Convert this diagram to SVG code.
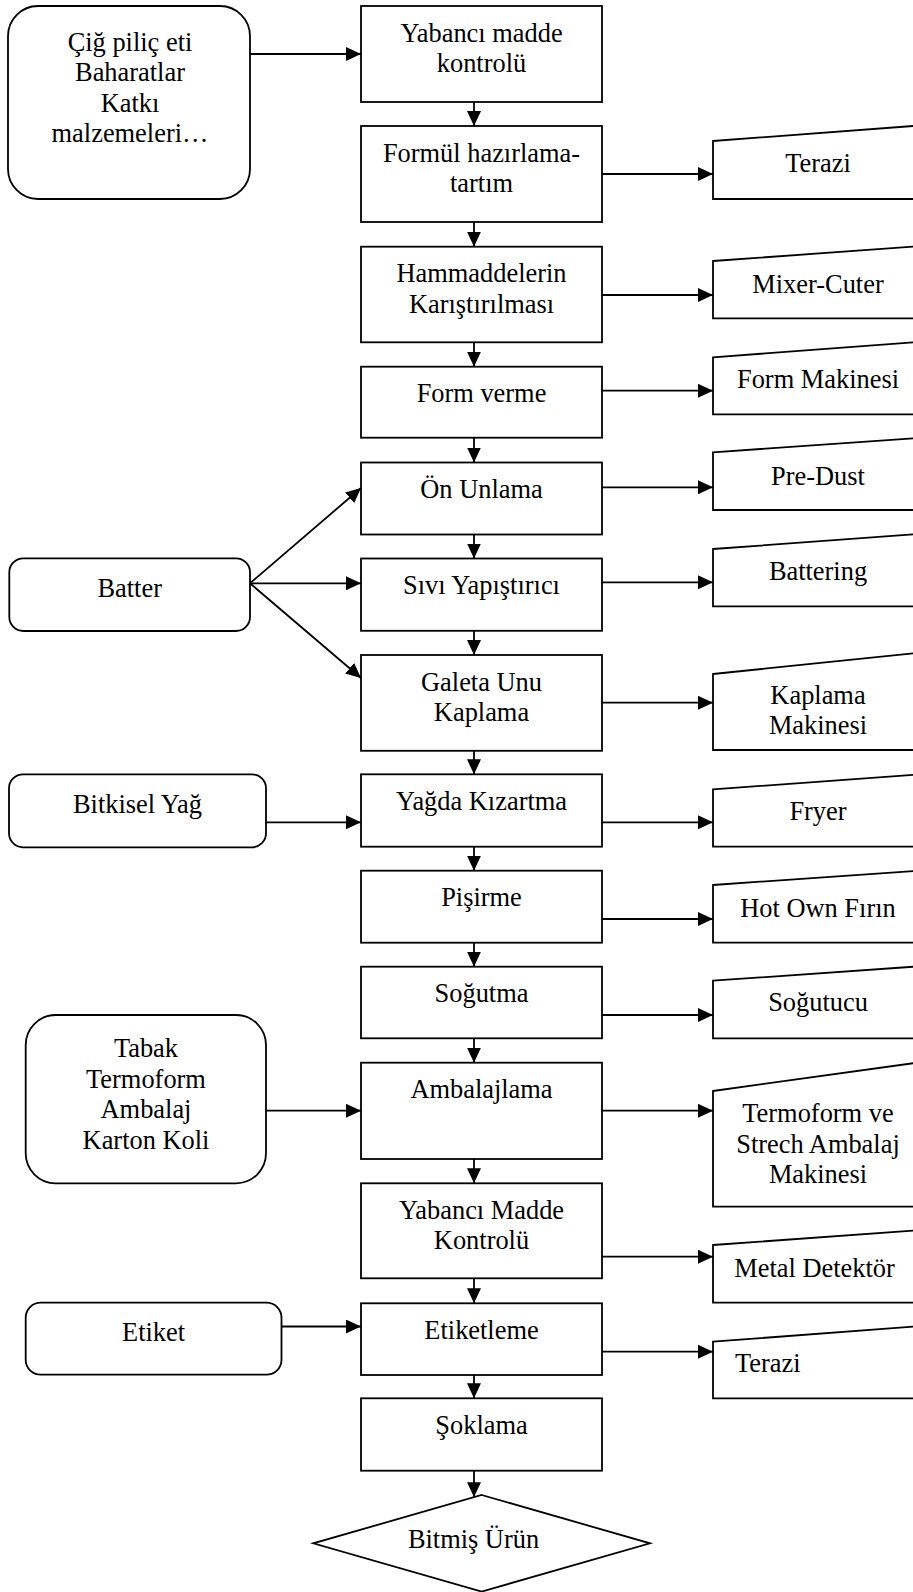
<svg xmlns="http://www.w3.org/2000/svg" width="913" height="1592" viewBox="0 0 913 1592">
  <defs>
    <style>
      .box { fill: #fff; stroke: #000; stroke-width: 1.8; }
      .lbl { font-family: "Liberation Serif", "Times New Roman", serif; font-size: 26.4px; fill: #000; text-anchor: middle; }
      .lft { text-anchor: start; }
      .wire { stroke: #000; stroke-width: 1.8; fill: none; marker-end: url(#head); }
    </style>
    <marker id="head" markerUnits="userSpaceOnUse" markerWidth="15" markerHeight="14" refX="15" refY="7" orient="auto">
      <path d="M0,0 L15,7 L0,14 z" fill="#000"/>
    </marker>
  </defs>
  <rect width="913" height="1592" fill="#fff"/>

  <!-- connectors -->
  <g id="connectors">
    <!-- inputs from the left -->
    <line class="wire" x1="250" y1="54" x2="361" y2="54"/>
    <line class="wire" x1="250" y1="583.3" x2="361" y2="488"/>
    <line class="wire" x1="250" y1="583.3" x2="361" y2="583.3"/>
    <line class="wire" x1="250" y1="583.3" x2="361" y2="678"/>
    <line class="wire" x1="266" y1="822.3" x2="361" y2="822.3"/>
    <line class="wire" x1="266" y1="1110.7" x2="361" y2="1110.7"/>
    <line class="wire" x1="281.5" y1="1326.5" x2="361" y2="1326.5"/>
    <!-- main flow -->
    <line class="wire" x1="474" y1="102" x2="474" y2="126"/>
    <line class="wire" x1="474" y1="222" x2="474" y2="246.7"/>
    <line class="wire" x1="474" y1="342.3" x2="474" y2="366.7"/>
    <line class="wire" x1="474" y1="437.7" x2="474" y2="462.5"/>
    <line class="wire" x1="474" y1="534.5" x2="474" y2="558.5"/>
    <line class="wire" x1="474" y1="630.8" x2="474" y2="655"/>
    <line class="wire" x1="474" y1="750.8" x2="474" y2="774.3"/>
    <line class="wire" x1="474" y1="846.7" x2="474" y2="870.7"/>
    <line class="wire" x1="474" y1="942.7" x2="474" y2="966.7"/>
    <line class="wire" x1="474" y1="1038.3" x2="474" y2="1062.7"/>
    <line class="wire" x1="474" y1="1159" x2="474" y2="1183.3"/>
    <line class="wire" x1="474" y1="1278.3" x2="474" y2="1303.3"/>
    <line class="wire" x1="474" y1="1375" x2="474" y2="1398.3"/>
    <line class="wire" x1="474" y1="1470.7" x2="474" y2="1497.2"/>
    <!-- equipment links -->
    <line class="wire" x1="602" y1="174" x2="713" y2="174"/>
    <line class="wire" x1="602" y1="295" x2="713" y2="295"/>
    <line class="wire" x1="602" y1="390.7" x2="713" y2="390.7"/>
    <line class="wire" x1="602" y1="487.3" x2="713" y2="487.3"/>
    <line class="wire" x1="602" y1="582.3" x2="713" y2="582.3"/>
    <line class="wire" x1="602" y1="702.7" x2="713" y2="702.7"/>
    <line class="wire" x1="602" y1="822.3" x2="713" y2="822.3"/>
    <line class="wire" x1="602" y1="919" x2="713" y2="919"/>
    <line class="wire" x1="602" y1="1015" x2="713" y2="1015"/>
    <line class="wire" x1="602" y1="1110.7" x2="713" y2="1110.7"/>
    <line class="wire" x1="602" y1="1256.7" x2="713" y2="1256.7"/>
    <line class="wire" x1="602" y1="1351.7" x2="713" y2="1351.7"/>
  </g>

  <!-- inputs -->
  <g id="in-raw">
    <rect class="box" x="8" y="6" width="242" height="193" rx="30"/>
    <text class="lbl" x="130" y="51">Çiğ piliç eti</text>
    <text class="lbl" x="130" y="81.4">Baharatlar</text>
    <text class="lbl" x="130" y="111.8">Katkı</text>
    <text class="lbl" x="130" y="142.2">malzemeleri…</text>
  </g>
  <g id="in-batter">
    <rect class="box" x="9.3" y="558.3" width="240.7" height="72.7" rx="14"/>
    <text class="lbl" x="129.7" y="596.7">Batter</text>
  </g>
  <g id="in-oil">
    <rect class="box" x="9" y="774.3" width="257" height="73" rx="14"/>
    <text class="lbl" x="137.5" y="813">Bitkisel Yağ</text>
  </g>
  <g id="in-pack">
    <rect class="box" x="25.7" y="1015" width="240.3" height="168.3" rx="30"/>
    <text class="lbl" x="146" y="1057">Tabak</text>
    <text class="lbl" x="146" y="1087.6">Termoform</text>
    <text class="lbl" x="146" y="1118.2">Ambalaj</text>
    <text class="lbl" x="146" y="1148.8">Karton Koli</text>
  </g>
  <g id="in-label">
    <rect class="box" x="25.7" y="1302.7" width="255.8" height="72" rx="15"/>
    <text class="lbl" x="153.6" y="1340.7">Etiket</text>
  </g>

  <!-- process steps -->
  <g id="step-01">
    <rect class="box" x="361" y="6" width="241" height="96"/>
    <text class="lbl" x="481.5" y="41.5">Yabancı madde</text>
    <text class="lbl" x="481.5" y="71.9">kontrolü</text>
  </g>
  <g id="step-02">
    <rect class="box" x="361" y="126" width="241" height="96"/>
    <text class="lbl" x="481.5" y="161.5">Formül hazırlama-</text>
    <text class="lbl" x="481.5" y="191.9">tartım</text>
  </g>
  <g id="step-03">
    <rect class="box" x="361" y="246.7" width="241" height="95.6"/>
    <text class="lbl" x="481.5" y="282.2">Hammaddelerin</text>
    <text class="lbl" x="481.5" y="312.6">Karıştırılması</text>
  </g>
  <g id="step-04">
    <rect class="box" x="361" y="366.7" width="241" height="71"/>
    <text class="lbl" x="481.5" y="402.2">Form verme</text>
  </g>
  <g id="step-05">
    <rect class="box" x="361" y="462.5" width="241" height="72"/>
    <text class="lbl" x="481.5" y="498">Ön Unlama</text>
  </g>
  <g id="step-06">
    <rect class="box" x="361" y="558.5" width="241" height="72.3"/>
    <text class="lbl" x="481.5" y="594">Sıvı Yapıştırıcı</text>
  </g>
  <g id="step-07">
    <rect class="box" x="361" y="655" width="241" height="95.8"/>
    <text class="lbl" x="481.5" y="690.5">Galeta Unu</text>
    <text class="lbl" x="481.5" y="720.9">Kaplama</text>
  </g>
  <g id="step-08">
    <rect class="box" x="361" y="774.3" width="241" height="72.4"/>
    <text class="lbl" x="481.5" y="809.8">Yağda Kızartma</text>
  </g>
  <g id="step-09">
    <rect class="box" x="361" y="870.7" width="241" height="72"/>
    <text class="lbl" x="481.5" y="906.2">Pişirme</text>
  </g>
  <g id="step-10">
    <rect class="box" x="361" y="966.7" width="241" height="71.6"/>
    <text class="lbl" x="481.5" y="1002.2">Soğutma</text>
  </g>
  <g id="step-11">
    <rect class="box" x="361" y="1062.7" width="241" height="96.3"/>
    <text class="lbl" x="481.5" y="1098.2">Ambalajlama</text>
  </g>
  <g id="step-12">
    <rect class="box" x="361" y="1183.3" width="241" height="95"/>
    <text class="lbl" x="481.5" y="1218.8">Yabancı Madde</text>
    <text class="lbl" x="481.5" y="1249.2">Kontrolü</text>
  </g>
  <g id="step-13">
    <rect class="box" x="361" y="1303.3" width="241" height="71.7"/>
    <text class="lbl" x="481.5" y="1338.8">Etiketleme</text>
  </g>
  <g id="step-14">
    <rect class="box" x="361" y="1398.3" width="241" height="72.4"/>
    <text class="lbl" x="481.5" y="1433.6">Şoklama</text>
  </g>
  <g id="finished">
    <polygon class="box" points="481.7,1495 650,1543.3 481.7,1591.6 313.3,1543.3"/>
    <text class="lbl" x="473.5" y="1548.3">Bitmiş Ürün</text>
  </g>

  <!-- equipment (manual-input shapes, running past the right edge) -->
  <g id="eq-scale-1">
    <polygon class="box" points="713,141 925,125.1 925,199 713,199"/>
    <text class="lbl" x="818" y="171.7">Terazi</text>
  </g>
  <g id="eq-mixer">
    <polygon class="box" points="713,261 925,245.8 925,318.3 713,318.3"/>
    <text class="lbl" x="818" y="293.3">Mixer-Cuter</text>
  </g>
  <g id="eq-former">
    <polygon class="box" points="713,357.3 925,341.4 925,414.3 713,414.3"/>
    <text class="lbl" x="818" y="388.3">Form Makinesi</text>
  </g>
  <g id="eq-predust">
    <polygon class="box" points="713,452.3 925,437.5 925,510 713,510"/>
    <text class="lbl" x="818" y="485">Pre-Dust</text>
  </g>
  <g id="eq-batter">
    <polygon class="box" points="713,549 925,533.6 925,606.3 713,606.3"/>
    <text class="lbl" x="818" y="580">Battering</text>
  </g>
  <g id="eq-coater">
    <polygon class="box" points="713,674 925,652.1 925,750 713,750"/>
    <text class="lbl" x="818" y="703.8">Kaplama</text>
    <text class="lbl" x="818" y="733.6">Makinesi</text>
  </g>
  <g id="eq-fryer">
    <polygon class="box" points="713,789.3 925,774.1 925,846.7 713,846.7"/>
    <text class="lbl" x="818" y="820">Fryer</text>
  </g>
  <g id="eq-oven">
    <polygon class="box" points="713,885 925,870.2 925,942.7 713,942.7"/>
    <text class="lbl" x="818" y="916.7">Hot Own Fırın</text>
  </g>
  <g id="eq-cooler">
    <polygon class="box" points="713,980.7 925,965.9 925,1038.3 713,1038.3"/>
    <text class="lbl" x="818" y="1010.7">Soğutucu</text>
  </g>
  <g id="eq-packer">
    <polygon class="box" points="713,1091 925,1061.6 925,1206.7 713,1206.7"/>
    <text class="lbl" x="818" y="1122">Termoform ve</text>
    <text class="lbl" x="818" y="1152.5">Strech Ambalaj</text>
    <text class="lbl" x="818" y="1183">Makinesi</text>
  </g>
  <g id="eq-detector">
    <polygon class="box" points="713,1245 925,1229.8 925,1302.7 713,1302.7"/>
    <text class="lbl lft" x="734.3" y="1276.7">Metal Detektör</text>
  </g>
  <g id="eq-scale-2">
    <polygon class="box" points="713,1341.7 925,1325.8 925,1398.3 713,1398.3"/>
    <text class="lbl lft" x="735" y="1372.3">Terazi</text>
  </g>
</svg>
